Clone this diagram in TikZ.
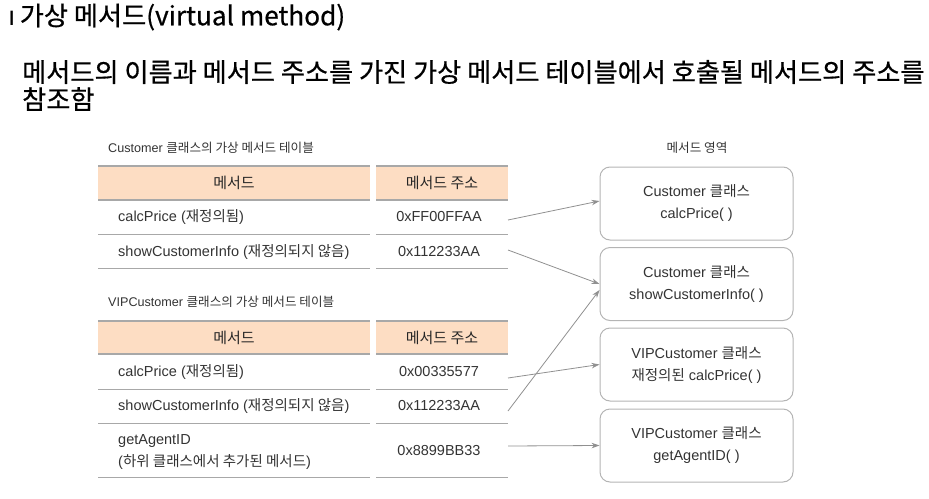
\documentclass[tikz,border=0pt]{standalone}
\usepackage{fontspec}
\setmainfont{Liberation Sans}
\newfontfamily\kr{Noto Sans CJK KR}
\newfontfamily\krb{Noto Sans CJK KR}[FakeBold=0.6]
\newfontfamily\dejavu{DejaVu Sans}
\usetikzlibrary{arrows.meta,calc}
\definecolor{hdr}{HTML}{FDDDC3}
\definecolor{rule}{HTML}{A8A8A8}
\definecolor{txt}{HTML}{333333}
\definecolor{arr}{HTML}{909090}
\definecolor{boxline}{HTML}{B4B4B4}
\newcommand{\K}[1]{{\kr #1}}
\tikzset{
  big/.style={anchor=west,inner sep=0pt,text=black,font=\krb\fontsize{26.2pt}{30pt}\selectfont},
  captext/.style={anchor=west,inner sep=0pt,text=txt,font=\fontsize{12.6pt}{14pt}\selectfont},
  cell/.style={anchor=west,inner sep=0pt,text=txt,font=\fontsize{14.5pt}{16pt}\selectfont},
  cellc/.style={inner sep=0pt,text=txt,font=\fontsize{14.5pt}{16pt}\selectfont},
  head/.style={inner sep=0pt,text=black!85,font=\kr\fontsize{15pt}{16pt}\selectfont},
  hline/.style={draw=rule,line width=1.3pt},
  rline/.style={draw=rule,line width=1pt},
  mbox/.style={draw=boxline,line width=1pt,rounded corners=10pt,minimum width=193pt,minimum height=73pt,align=center,text=txt,font=\fontsize{14.5pt}{22pt}\selectfont},
  link/.style={draw=arr,line width=0.8pt,-{Stealth[length=8pt,width=5.5pt]}}
}
\begin{document}
\begin{tikzpicture}[x=1pt,y=-1pt]
\useasboundingbox (0,0) rectangle (929,498);
% titles
\node[big] (title) at (8,17) {{\dejavu ı}\,가상 메서드(virtual method)};
\node[big] (sub1) at (22,72) {메서드의 이름과 메서드 주소를 가진 가상 메서드 테이블에서 호출될 메서드의 주소를};
\node[big] (sub2) at (22,99) {참조함};
% table 1
\node[captext] (cap1) at (108,148) {Customer \K{클래스의 가상 메서드 테이블}};
\fill[hdr] (98,166) rectangle (370,200);
\fill[hdr] (376,166) rectangle (508,200);
\foreach \y in {166,200} {
  \draw[hline] (98,\y) -- (370,\y);
  \draw[hline] (376,\y) -- (508,\y);
}
\foreach \y in {234,268} {
  \draw[rline] (98,\y) -- (370,\y);
  \draw[rline] (376,\y) -- (508,\y);
}
\node[head] (h1a) at (234,183) {메서드};
\node[head] (h1b) at (442,183) {메서드 주소};
\node[cell] (t1r1) at (118,217) {calcPrice (\K{재정의됨})};
\node[cellc] (t1a1) at (439,217) {0xFF00FFAA};
\node[cell] (t1r2) at (118,252) {showCustomerInfo (\K{재정의되지 않음})};
\node[cellc] (t1a2) at (439,252) {0x112233AA};
% table 2
\node[captext] (cap2) at (108,302) {VIPCustomer \K{클래스의 가상 메서드 테이블}};
\fill[hdr] (98,321) rectangle (370,354);
\fill[hdr] (376,321) rectangle (508,354);
\foreach \y in {321,354} {
  \draw[hline] (98,\y) -- (370,\y);
  \draw[hline] (376,\y) -- (508,\y);
}
\foreach \y in {389,423,477} {
  \draw[rline] (98,\y) -- (370,\y);
  \draw[rline] (376,\y) -- (508,\y);
}
\node[head] (h2a) at (234,338) {메서드};
\node[head] (h2b) at (442,338) {메서드 주소};
\node[cell] (t2r1) at (118,372) {calcPrice (\K{재정의됨})};
\node[cellc] (t2a1) at (439,372) {0x00335577};
\node[cell] (t2r2) at (118,406) {showCustomerInfo (\K{재정의되지 않음})};
\node[cellc] (t2a2) at (439,406) {0x112233AA};
\node[cell] (t2r3a) at (118,441) {getAgentID};
\node[cell] (t2r3b) at (118,462) {(\K{하위 클래스에서 추가된 메서드})};
\node[cellc] (t2a3) at (439,451) {0x8899BB33};
% method area
\node[captext,anchor=center] (area) at (697,148) {\K{메서드 영역}};
\node[mbox] (b1) at (696.5,203.5) {Customer \K{클래스}\\calcPrice( )};
\node[mbox] (b2) at (696.5,284) {Customer \K{클래스}\\showCustomerInfo( )};
\node[mbox] (b3) at (696.5,364.5) {VIPCustomer \K{클래스}\\\K{재정의된} calcPrice( )};
\node[mbox] (b4) at (696.5,445.5) {VIPCustomer \K{클래스}\\getAgentID( )};
% arrow start points
\coordinate (s1) at (508,220);
\coordinate (s2) at (508,250);
\coordinate (s3) at (508,378);
\coordinate (s4) at (508,411);
\coordinate (s5) at (508,446);
\draw[link] (s1) -- ($(b1.west)+(0,-2.5)$);
\draw[link] (s2) -- (b2.west);
\draw[link] (s3) -- (b3.west);
\draw[link] (s4) -- ($(b2.west)+(0,6)$);
\draw[link] (s5) -- (b4.west);
\end{tikzpicture}
\end{document}
